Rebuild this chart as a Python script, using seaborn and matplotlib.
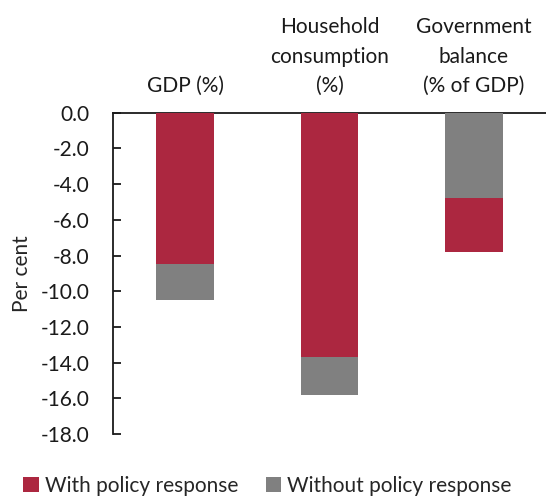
import matplotlib
matplotlib.use("Agg")
import matplotlib.pyplot as plt
import pandas as pd
import seaborn as sns

# Categories (shown along the top of the chart)
CATEGORIES = ["GDP (%)", "Household\nconsumption\n(%)", "Government\nbalance\n(% of GDP)"]

# Series values (per cent)
WITH_POLICY = [-8.5, -13.7, -7.8]
WITHOUT_POLICY = [-10.5, -15.8, -4.8]

SERIES = ["With policy response", "Without policy response"]
COLORS = {"With policy response": "#AC2740", "Without policy response": "#808080"}

Y_TICKS = [0, -2, -4, -6, -8, -10, -12, -14, -16, -18]

rows = []
for cat, w, wo in zip(CATEGORIES, WITH_POLICY, WITHOUT_POLICY):
    rows.append({"Category": cat, "Series": SERIES[0], "Value": w})
    rows.append({"Category": cat, "Series": SERIES[1], "Value": wo})
df = pd.DataFrame(rows)

sns.set_theme(style="white")
plt.rcParams["font.family"] = ["Lato", "DejaVu Sans"]

fig = plt.figure(figsize=(5.46, 4.97), dpi=100)
ax = fig.add_axes([0.207, 0.127, 0.793, 0.646])

sns.barplot(
    data=df,
    x="Category",
    y="Value",
    hue="Series",
    palette=COLORS,
    saturation=1,
    dodge=False,
    width=0.4,
    linewidth=0,
    ax=ax,
)

# Overlapping bars: put the shorter bar in front
for p in ax.patches:
    p.set_zorder(3 - abs(p.get_height()) / 100)

ax.set_xlim(-0.5, 2.5)
ax.set_ylim(-18, 0)
ax.set_yticks(Y_TICKS)
ax.set_yticklabels([f"{t:.1f}" for t in Y_TICKS])
ax.set_xlabel("")
ax.set_ylabel("Per cent", fontsize=15, labelpad=6)

ax.xaxis.tick_top()
ax.tick_params(axis="x", length=0, labelsize=15, pad=12, colors="#1a1a1a")
for lbl in ax.get_xticklabels():
    lbl.set_linespacing(1.6)
ax.tick_params(axis="y", direction="in", length=6, width=1.3, labelsize=15,
               left=True, pad=17, colors="#1a1a1a")

for side in ["right", "bottom"]:
    ax.spines[side].set_visible(False)
for side in ["left", "top"]:
    ax.spines[side].set_color("#1a1a1a")
    ax.spines[side].set_linewidth(1.3)

handles, labels = ax.get_legend_handles_labels()
ax.get_legend().remove()
fig.legend(handles, labels, loc="lower center", bbox_to_anchor=(0.49, -0.035),
           ncol=2, frameon=False, fontsize=15, handlelength=0.75,
           handleheight=0.75, handletextpad=0.3, columnspacing=1.3)

fig.savefig("out.png", dpi=100)
